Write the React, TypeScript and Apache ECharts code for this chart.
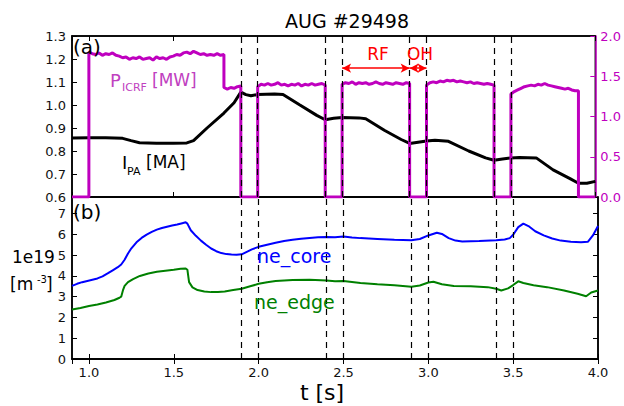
import React, { useEffect, useRef } from "react";
import * as echarts from "echarts";

// ---------- data ----------
const tIpa = [0.9, 1.0, 1.1, 1.2, 1.25, 1.3, 1.4, 1.5, 1.58, 1.62, 1.7, 1.8, 1.86, 1.9, 1.93, 1.96, 2.0, 2.1, 2.15, 2.25, 2.35, 2.4, 2.45, 2.5, 2.6, 2.64, 2.75, 2.85, 2.9, 2.95, 3.0, 3.05, 3.13, 3.25, 3.35, 3.4, 3.45, 3.5, 3.55, 3.65, 3.75, 3.85, 3.9, 3.95, 4.0];
const ipa = [0.856, 0.858, 0.858, 0.855, 0.845, 0.836, 0.834, 0.834, 0.835, 0.845, 0.9, 0.965, 1.01, 1.056, 1.045, 1.04, 1.046, 1.048, 1.046, 1.0, 0.955, 0.936, 0.942, 0.946, 0.944, 0.94, 0.89, 0.85, 0.833, 0.838, 0.843, 0.847, 0.842, 0.8, 0.77, 0.76, 0.765, 0.77, 0.772, 0.77, 0.718, 0.68, 0.66, 0.66, 0.668];

const tP = [0.9, 1.0, 1.0, 1.02, 1.04, 1.06, 1.08, 1.1, 1.12, 1.14, 1.16, 1.18, 1.2, 1.22, 1.24, 1.26, 1.28, 1.3, 1.32, 1.34, 1.36, 1.38, 1.4, 1.42, 1.44, 1.46, 1.48, 1.5, 1.52, 1.54, 1.56, 1.58, 1.6, 1.62, 1.64, 1.66, 1.68, 1.7, 1.72, 1.74, 1.76, 1.78, 1.8,
  1.8, 1.82, 1.84, 1.86, 1.88, 1.9, 1.9, 2.0,
  2.0, 2.02, 2.04, 2.06, 2.08, 2.1, 2.12, 2.14, 2.16, 2.18, 2.2, 2.22, 2.24, 2.26, 2.28, 2.3, 2.32, 2.34, 2.36, 2.38, 2.4, 2.4, 2.5,
  2.5, 2.52, 2.54, 2.56, 2.58, 2.6, 2.62, 2.64, 2.66, 2.68, 2.7, 2.72, 2.74, 2.76, 2.78, 2.8, 2.82, 2.84, 2.86, 2.88, 2.9, 2.9, 3.0,
  3.0, 3.02, 3.04, 3.06, 3.08, 3.1, 3.12, 3.14, 3.16, 3.18, 3.2, 3.22, 3.24, 3.26, 3.28, 3.3, 3.32, 3.34, 3.36, 3.38, 3.4, 3.4, 3.5,
  3.5, 3.52, 3.54, 3.56, 3.58, 3.6, 3.62, 3.64, 3.66, 3.68, 3.7, 3.72, 3.74, 3.76, 3.78, 3.8, 3.82, 3.84, 3.86, 3.88, 3.9, 3.9, 4.0];
const pIcrf = [0, 0, 1.8, 1.78, 1.77, 1.79, 1.76, 1.78, 1.77, 1.79, 1.76, 1.75, 1.73, 1.74, 1.71, 1.73, 1.72, 1.74, 1.71, 1.72, 1.73, 1.7, 1.74, 1.72, 1.73, 1.71, 1.74, 1.75, 1.77, 1.76, 1.79, 1.8, 1.78, 1.81, 1.79, 1.77, 1.78, 1.76, 1.77, 1.76, 1.78, 1.76, 1.77,
  1.36, 1.34, 1.36, 1.35, 1.37, 1.38, 0, 0,
  1.37, 1.4, 1.39, 1.41, 1.39, 1.4, 1.42, 1.39, 1.4, 1.38, 1.4, 1.39, 1.41, 1.38, 1.4, 1.39, 1.41, 1.39, 1.4, 1.41, 1.39, 0, 0,
  1.4, 1.42, 1.41, 1.43, 1.4, 1.42, 1.41, 1.42, 1.4, 1.41, 1.43, 1.41, 1.4, 1.42, 1.41, 1.4, 1.42, 1.41, 1.4, 1.42, 1.41, 0, 0,
  1.39, 1.42, 1.43, 1.42, 1.44, 1.43, 1.45, 1.44, 1.45, 1.43, 1.44, 1.43, 1.42, 1.43, 1.41, 1.42, 1.41, 1.4, 1.41, 1.4, 1.39, 0, 0,
  1.28, 1.31, 1.33, 1.35, 1.37, 1.38, 1.39, 1.38, 1.4, 1.39, 1.41, 1.39, 1.38, 1.37, 1.36, 1.35, 1.34, 1.35, 1.33, 1.32, 1.32, 0, 0];

const tCore = [0.9, 0.93, 0.96, 0.99, 1.02, 1.05, 1.08, 1.11, 1.14, 1.17, 1.19, 1.21, 1.23, 1.25, 1.28, 1.31, 1.34, 1.37, 1.4, 1.43, 1.46, 1.49, 1.52, 1.55, 1.57, 1.58, 1.6, 1.63, 1.66, 1.69, 1.72, 1.75, 1.78, 1.81, 1.84, 1.87, 1.9, 1.93, 1.96, 2.0, 2.05, 2.1, 2.15, 2.2, 2.25, 2.3, 2.35, 2.4, 2.45, 2.5, 2.55, 2.6, 2.7, 2.8, 2.9, 2.95, 3.0, 3.05, 3.08, 3.12, 3.16, 3.2, 3.3, 3.4, 3.45, 3.48, 3.5, 3.53, 3.56, 3.59, 3.63, 3.68, 3.73, 3.78, 3.84, 3.9, 3.94, 3.97, 4.0];
const neCore = [3.52, 3.62, 3.7, 3.76, 3.82, 3.88, 3.98, 4.12, 4.27, 4.42, 4.55, 4.78, 5.08, 5.33, 5.62, 5.83, 5.99, 6.12, 6.23, 6.31, 6.37, 6.43, 6.48, 6.54, 6.58, 6.52, 6.2, 5.93, 5.7, 5.5, 5.32, 5.19, 5.1, 5.05, 5.03, 5.02, 5.04, 5.16, 5.28, 5.4, 5.5, 5.6, 5.68, 5.74, 5.79, 5.83, 5.86, 5.88, 5.86, 5.9, 5.85, 5.82, 5.78, 5.74, 5.72, 5.78, 5.95, 6.08, 6.02, 5.82, 5.7, 5.66, 5.68, 5.72, 5.75, 5.82, 5.98, 6.35, 6.52, 6.4, 6.15, 5.95, 5.8, 5.7, 5.64, 5.62, 5.64, 5.95, 6.4];

const tEdge = [0.9, 0.95, 1.0, 1.05, 1.1, 1.15, 1.18, 1.19, 1.2, 1.21, 1.23, 1.26, 1.3, 1.35, 1.4, 1.45, 1.5, 1.54, 1.57, 1.58, 1.59, 1.61, 1.64, 1.68, 1.72, 1.76, 1.8, 1.85, 1.9, 1.95, 2.0, 2.05, 2.1, 2.2, 2.3, 2.4, 2.45, 2.5, 2.6, 2.7, 2.8, 2.9, 2.95, 3.0, 3.03, 3.08, 3.15, 3.25, 3.35, 3.4, 3.43, 3.47, 3.5, 3.53, 3.56, 3.62, 3.7, 3.8, 3.88, 3.93, 3.96, 4.0];
const neEdge = [2.38, 2.46, 2.55, 2.62, 2.72, 2.84, 2.95, 3.0, 3.3, 3.52, 3.7, 3.85, 4.0, 4.12, 4.2, 4.25, 4.3, 4.35, 4.36, 4.3, 3.7, 3.45, 3.32, 3.25, 3.22, 3.23, 3.25, 3.32, 3.38, 3.5, 3.62, 3.7, 3.75, 3.8, 3.82, 3.78, 3.74, 3.76, 3.66, 3.6, 3.55, 3.48, 3.54, 3.68, 3.72, 3.6, 3.52, 3.5, 3.46, 3.38, 3.3, 3.4, 3.56, 3.74, 3.66, 3.55, 3.46, 3.3, 3.14, 3.02, 3.2, 3.3];

const dashTimes = [1.9, 2.0, 2.4, 2.5, 2.9, 3.0, 3.4, 3.5];
const arrowSpans = [[2.5, 2.9], [2.9, 3.0]];
const arrowLevel = 1.6;

const FONT = '"DejaVu Sans", sans-serif';
const MAG = "#bf00bf";

const zip = (xs: number[], ys: number[]) => xs.map((x, i) => [x, ys[i]]);

function txt(text: string, x: number, y: number, size: number, fill: string, align = "left") {
  return {
    type: "text",
    x,
    y,
    z: 100,
    style: { text, fill, font: `${size}px ${FONT}`, align, verticalAlign: "middle" },
  };
}

export default function App() {
  const ref = useRef<HTMLDivElement>(null);
  useEffect(() => {
    if (!ref.current) return;
    const chart = echarts.init(ref.current, undefined, { renderer: "svg" });
    const tickLabel = { fontFamily: FONT, fontSize: 13, color: "#111" };
    const axLine = { show: true, lineStyle: { color: "#000", width: 1.5 } };
    const tick = { show: true, inside: true, length: 5, lineStyle: { color: "#000", width: 1 } };
    const xBase = (gridIndex: number, position: string, showLabel: boolean) => ({
      type: "value",
      gridIndex,
      position,
      min: 0.9,
      max: 4.0,
      splitNumber: 6,
      axisLine: axLine,
      axisTick: tick,
      splitLine: { show: false },
      axisLabel: {
        show: showLabel,
        ...tickLabel,
        margin: 7,
        showMinLabel: false,
        formatter: (v: number) => v.toFixed(1),
      },
    });
    chart.setOption({
      animation: false,
      backgroundColor: "#fff",
      grid: [
        { left: 72, right: 26, top: 36, height: 161, show: true, borderColor: "#000", borderWidth: 1.5 },
        { left: 72, right: 26, top: 197, height: 162, show: true, borderColor: "#000", borderWidth: 1.5 },
      ],
      xAxis: [xBase(0, "bottom", false), xBase(0, "top", false), xBase(1, "bottom", true), xBase(1, "top", false)],
      yAxis: [
        {
          type: "value", gridIndex: 0, position: "left", min: 0.6, max: 1.3, interval: 0.1,
          axisLine: axLine, axisTick: tick, splitLine: { show: false },
          axisLabel: { ...tickLabel, margin: 6, formatter: (v: number) => v.toFixed(1) },
        },
        {
          type: "value", gridIndex: 0, position: "right", min: 0, max: 2, interval: 0.5,
          axisLine: { show: true, lineStyle: { color: MAG, width: 1.5 } },
          axisTick: { ...tick, lineStyle: { color: MAG, width: 1 } },
          splitLine: { show: false },
          axisLabel: { ...tickLabel, color: MAG, margin: 5, formatter: (v: number) => v.toFixed(1) },
        },
        {
          type: "value", gridIndex: 1, position: "left", min: 0, max: 7.8, interval: 1,
          axisLine: axLine, axisTick: tick, splitLine: { show: false },
          axisLabel: {
            ...tickLabel, margin: 6, showMaxLabel: false,
            formatter: (v: number) => (Number.isInteger(v) ? String(v) : ""),
          },
        },
        {
          type: "value", gridIndex: 1, position: "right", min: 0, max: 7.8, interval: 1,
          axisLine: axLine, axisTick: tick, splitLine: { show: false }, axisLabel: { show: false },
        },
      ],
      series: [
        {
          type: "line", name: "I_PA", xAxisIndex: 0, yAxisIndex: 0, data: zip(tIpa, ipa),
          showSymbol: false, symbol: "none", lineStyle: { color: "#000", width: 3 }, z: 3,
          markLine: {
            silent: true, symbol: "none", label: { show: false },
            lineStyle: { color: "#000", type: [6, 5], width: 1.2 },
            data: dashTimes.map((t) => ({ xAxis: t })),
          },
        },
        {
          type: "line", name: "P_ICRF", xAxisIndex: 0, yAxisIndex: 1, data: zip(tP, pIcrf),
          showSymbol: false, symbol: "none", lineStyle: { color: MAG, width: 3 }, z: 4,
          markLine: {
            silent: true, symbol: ["arrow", "arrow"], symbolSize: [7, 9], label: { show: false },
            lineStyle: { color: "#ff0000", type: "solid", width: 1.5 },
            data: arrowSpans.map(([a, b]) => [{ coord: [a, arrowLevel] }, { coord: [b, arrowLevel] }]),
          },
        },
        {
          type: "line", name: "ne_core", xAxisIndex: 2, yAxisIndex: 2, data: zip(tCore, neCore),
          showSymbol: false, symbol: "none", lineStyle: { color: "#0000ff", width: 2 }, z: 3,
          markLine: {
            silent: true, symbol: "none", label: { show: false },
            lineStyle: { color: "#000", type: [6, 5], width: 1.2 },
            data: dashTimes.map((t) => ({ xAxis: t })),
          },
        },
        {
          type: "line", name: "ne_edge", xAxisIndex: 2, yAxisIndex: 2, data: zip(tEdge, neEdge),
          showSymbol: false, symbol: "none", lineStyle: { color: "#008000", width: 2 }, z: 3,
        },
      ],
      graphic: [
        txt("AUG #29498", 347, 21, 19, "#000", "center"),
        txt("(a)", 73, 47, 20, "#000"),
        txt("(b)", 73, 212, 20, "#000"),
        txt("P", 110, 80, 18, "#c040c0"),
        txt("ICRF", 122, 87, 11, "#c040c0"),
        txt("[MW]", 152, 80, 17, "#c040c0"),
        txt("I", 122, 162, 18, "#000"),
        txt("PA", 127, 171, 11, "#000"),
        txt("[MA]", 146, 162, 17, "#000"),
        txt("RF", 378, 54, 17, "#ff0000", "center"),
        txt("OH", 420, 54, 17, "#ff0000", "center"),
        txt("1e19", 12, 257, 17, "#000"),
        txt("[m", 10, 284, 17, "#000"),
        txt("-3", 37, 279, 10, "#000"),
        txt("]", 46, 284, 17, "#000"),
        txt("ne_core", 257, 256, 19, "#0000ff"),
        txt("ne_edge", 254, 302, 19, "#008000"),
        txt("t [s]", 322, 392, 22, "#000", "center"),
      ],
    });
    return () => chart.dispose();
  }, []);
  return <div ref={ref} style={{ position: "fixed", left: 0, top: 0, width: 624, height: 406, background: "#fff" }} />;
}
